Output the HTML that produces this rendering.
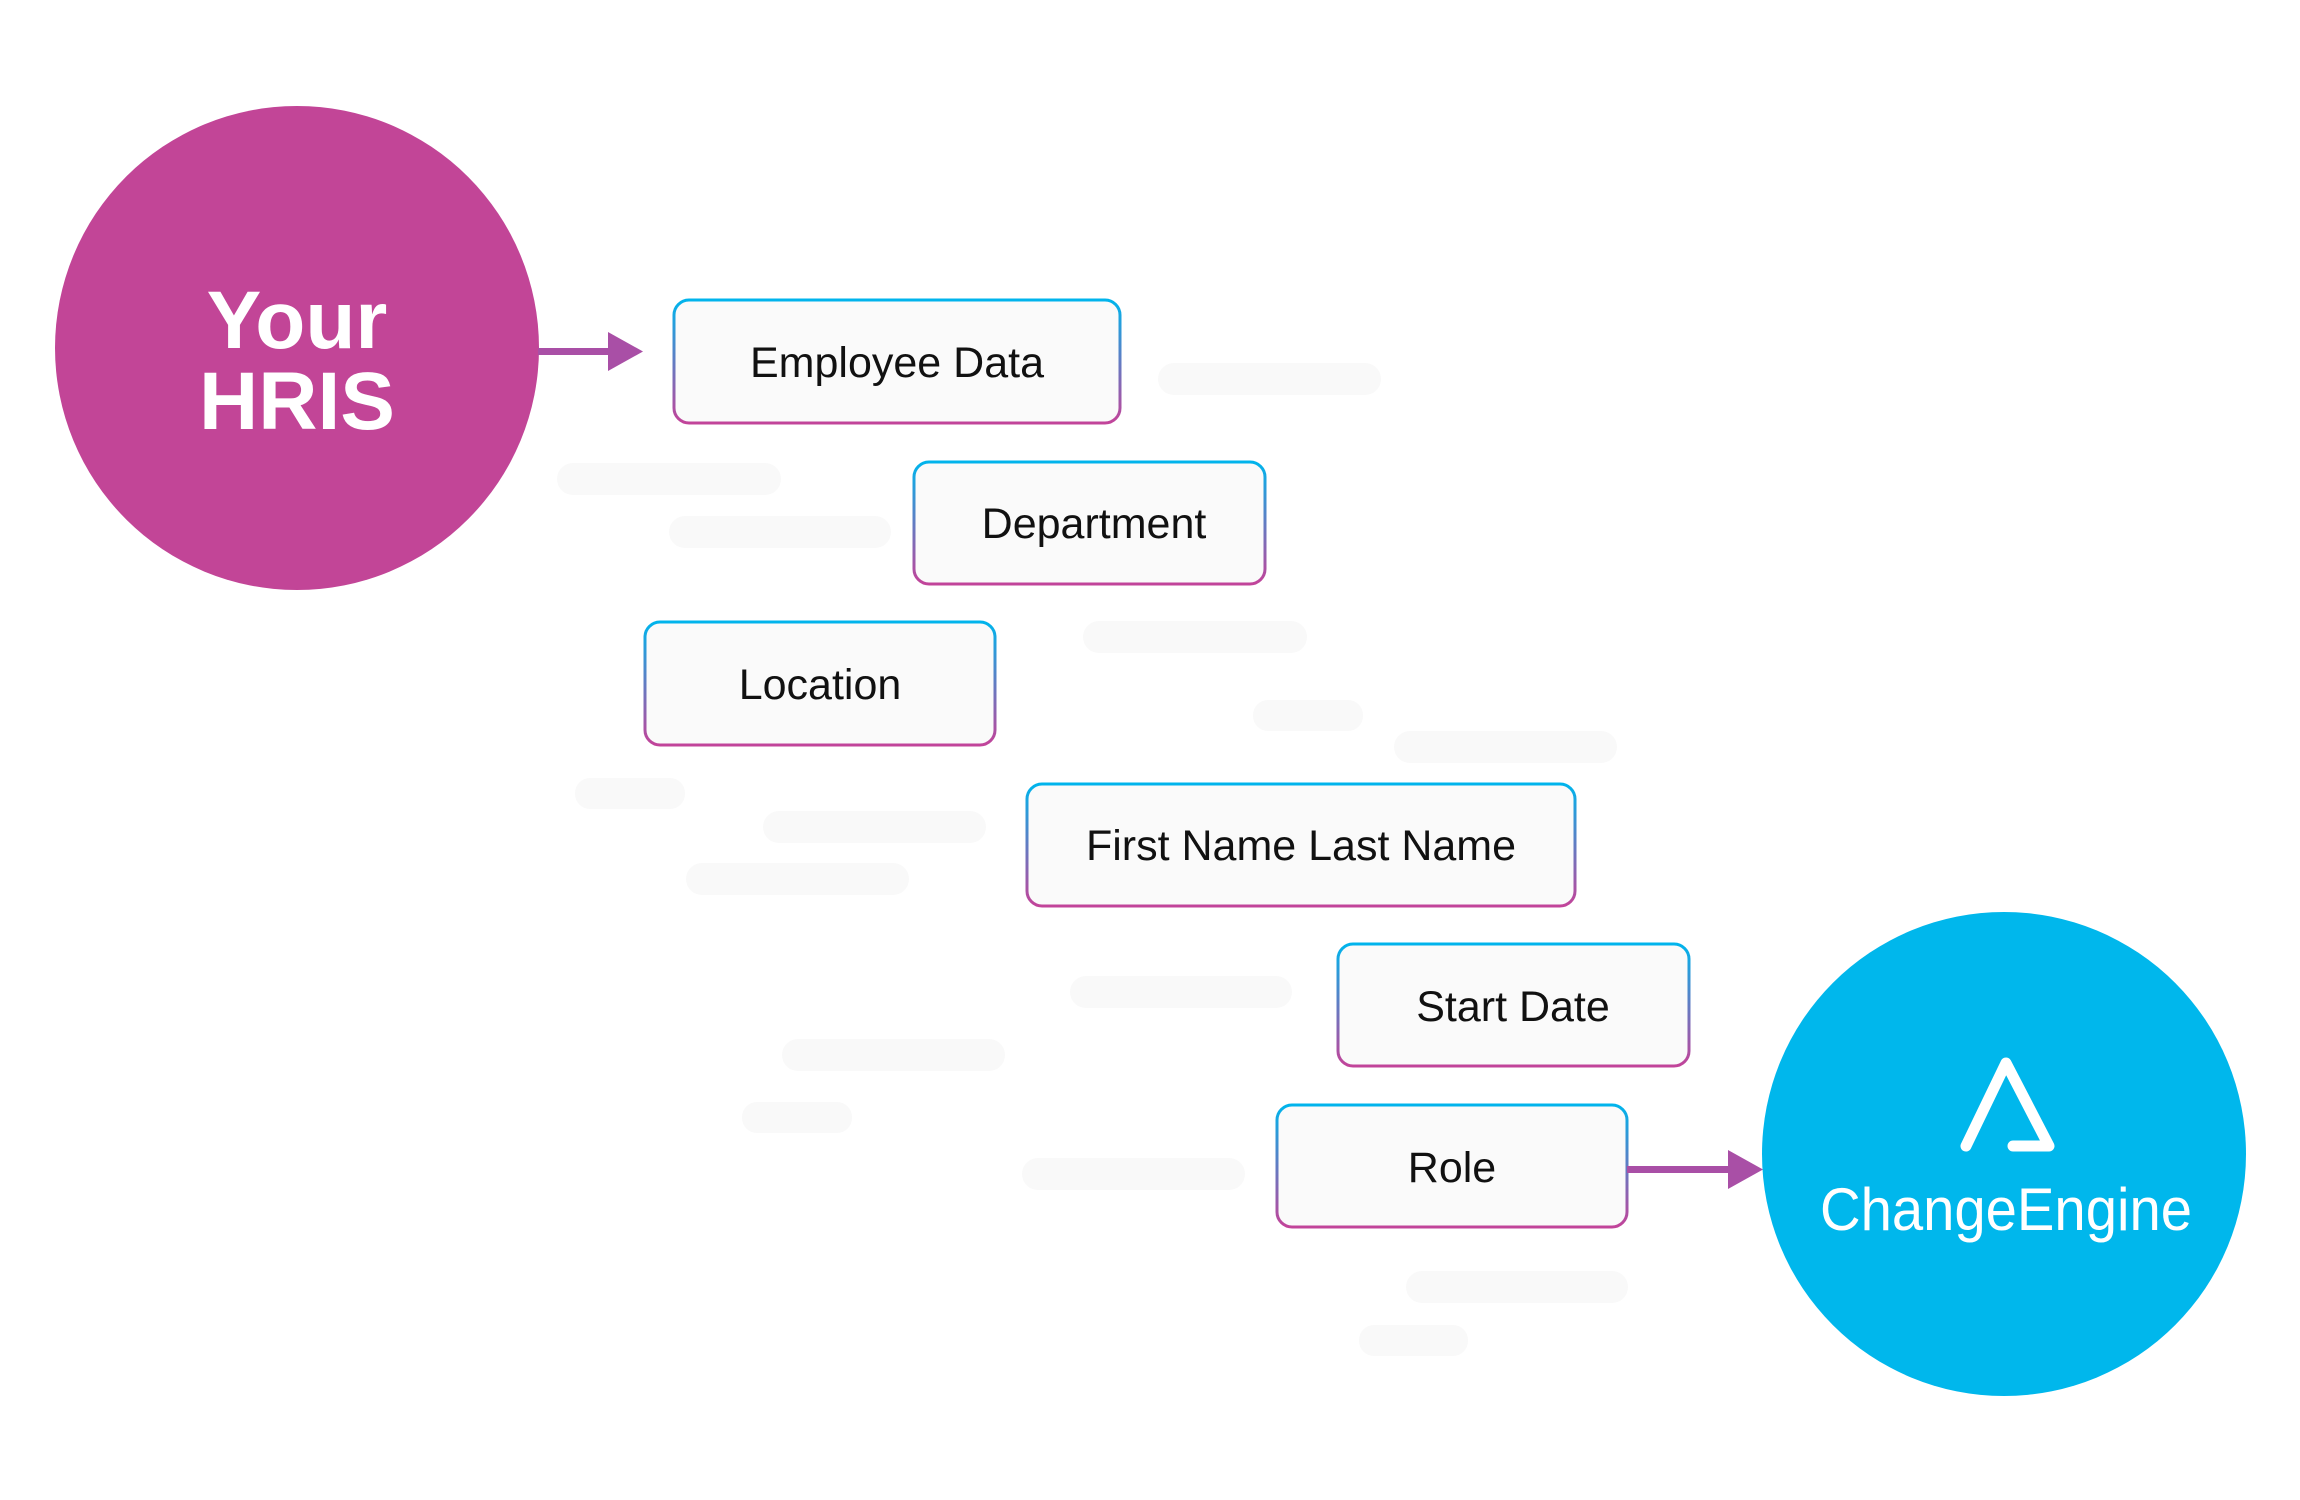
<!DOCTYPE html>
<html><head><meta charset="utf-8"><style>
html,body{margin:0;padding:0;background:#fff;}
svg{display:block;}
</style></head><body>
<svg width="2300" height="1500" viewBox="0 0 2300 1500" xmlns="http://www.w3.org/2000/svg">
<defs>
<linearGradient id="bg" x1="0" y1="0" x2="0" y2="1">
<stop offset="0" stop-color="#00b4ec"/><stop offset="1" stop-color="#c2449a"/>
</linearGradient>
</defs>
<g fill="#f9f9f9" transform="translate(-5,-3)">
<rect x="1163" y="366" width="223" height="32" rx="16"/>
<rect x="562" y="466" width="224" height="32" rx="16"/>
<rect x="674" y="519" width="222" height="32" rx="16"/>
<rect x="1088" y="624" width="224" height="32" rx="16"/>
<rect x="1258" y="703" width="110" height="31" rx="15"/>
<rect x="1399" y="734" width="223" height="32" rx="16"/>
<rect x="580" y="781" width="110" height="31" rx="15"/>
<rect x="768" y="814" width="223" height="32" rx="16"/>
<rect x="691" y="866" width="223" height="32" rx="16"/>
<rect x="1075" y="979" width="222" height="32" rx="16"/>
<rect x="787" y="1042" width="223" height="32" rx="16"/>
<rect x="747" y="1105" width="110" height="31" rx="15"/>
<rect x="1027" y="1161" width="223" height="32" rx="16"/>
<rect x="1411" y="1274" width="222" height="32" rx="16"/>
<rect x="1364" y="1328" width="109" height="31" rx="15"/>
</g>
<circle cx="297" cy="348" r="242" fill="#c24597"/>
<text x="297" y="348" text-anchor="middle" font-family="Liberation Sans, sans-serif" font-weight="bold" font-size="82" fill="#fff">Your</text>
<text x="297" y="429" text-anchor="middle" font-family="Liberation Sans, sans-serif" font-weight="bold" font-size="82" fill="#fff">HRIS</text>
<rect x="538" y="348" width="72" height="7" fill="#a94fa6"/>
<polygon points="608,332 643,351.5 608,371" fill="#a94fa6"/>
<g font-family="Liberation Sans, sans-serif" font-size="43" fill="#111" text-anchor="middle">
<rect x="674" y="300" width="446" height="123" rx="15" fill="#fafafa" stroke="url(#bg)" stroke-width="3"/>
<text x="897" y="377">Employee Data</text>
<rect x="914" y="462" width="351" height="122" rx="15" fill="#fafafa" stroke="url(#bg)" stroke-width="3"/>
<text x="1094" y="538">Department</text>
<rect x="645" y="622" width="350" height="123" rx="15" fill="#fafafa" stroke="url(#bg)" stroke-width="3"/>
<text x="820" y="699">Location</text>
<rect x="1027" y="784" width="548" height="122" rx="15" fill="#fafafa" stroke="url(#bg)" stroke-width="3"/>
<text x="1301" y="860">First Name Last Name</text>
<rect x="1338" y="944" width="351" height="122" rx="15" fill="#fafafa" stroke="url(#bg)" stroke-width="3"/>
<text x="1513" y="1021">Start Date</text>
<rect x="1277" y="1105" width="350" height="122" rx="15" fill="#fafafa" stroke="url(#bg)" stroke-width="3"/>
<text x="1452" y="1182">Role</text>
</g>
<rect x="1627" y="1166" width="103" height="7" fill="#a94fa6"/>
<polygon points="1728,1150 1763,1169.5 1728,1189" fill="#a94fa6"/>
<circle cx="2004" cy="1154" r="242" fill="#00b7ec"/>
<path d="M1966,1146 L2006,1063 L2049,1146 L2013,1146" fill="none" stroke="#fff" stroke-width="11" stroke-linecap="round" stroke-linejoin="round"/>
<text x="2006" y="1230" text-anchor="middle" font-family="Liberation Sans, sans-serif" font-size="60" fill="#fff" textLength="372" lengthAdjust="spacingAndGlyphs">ChangeEngine</text>
</svg>
</body></html>
